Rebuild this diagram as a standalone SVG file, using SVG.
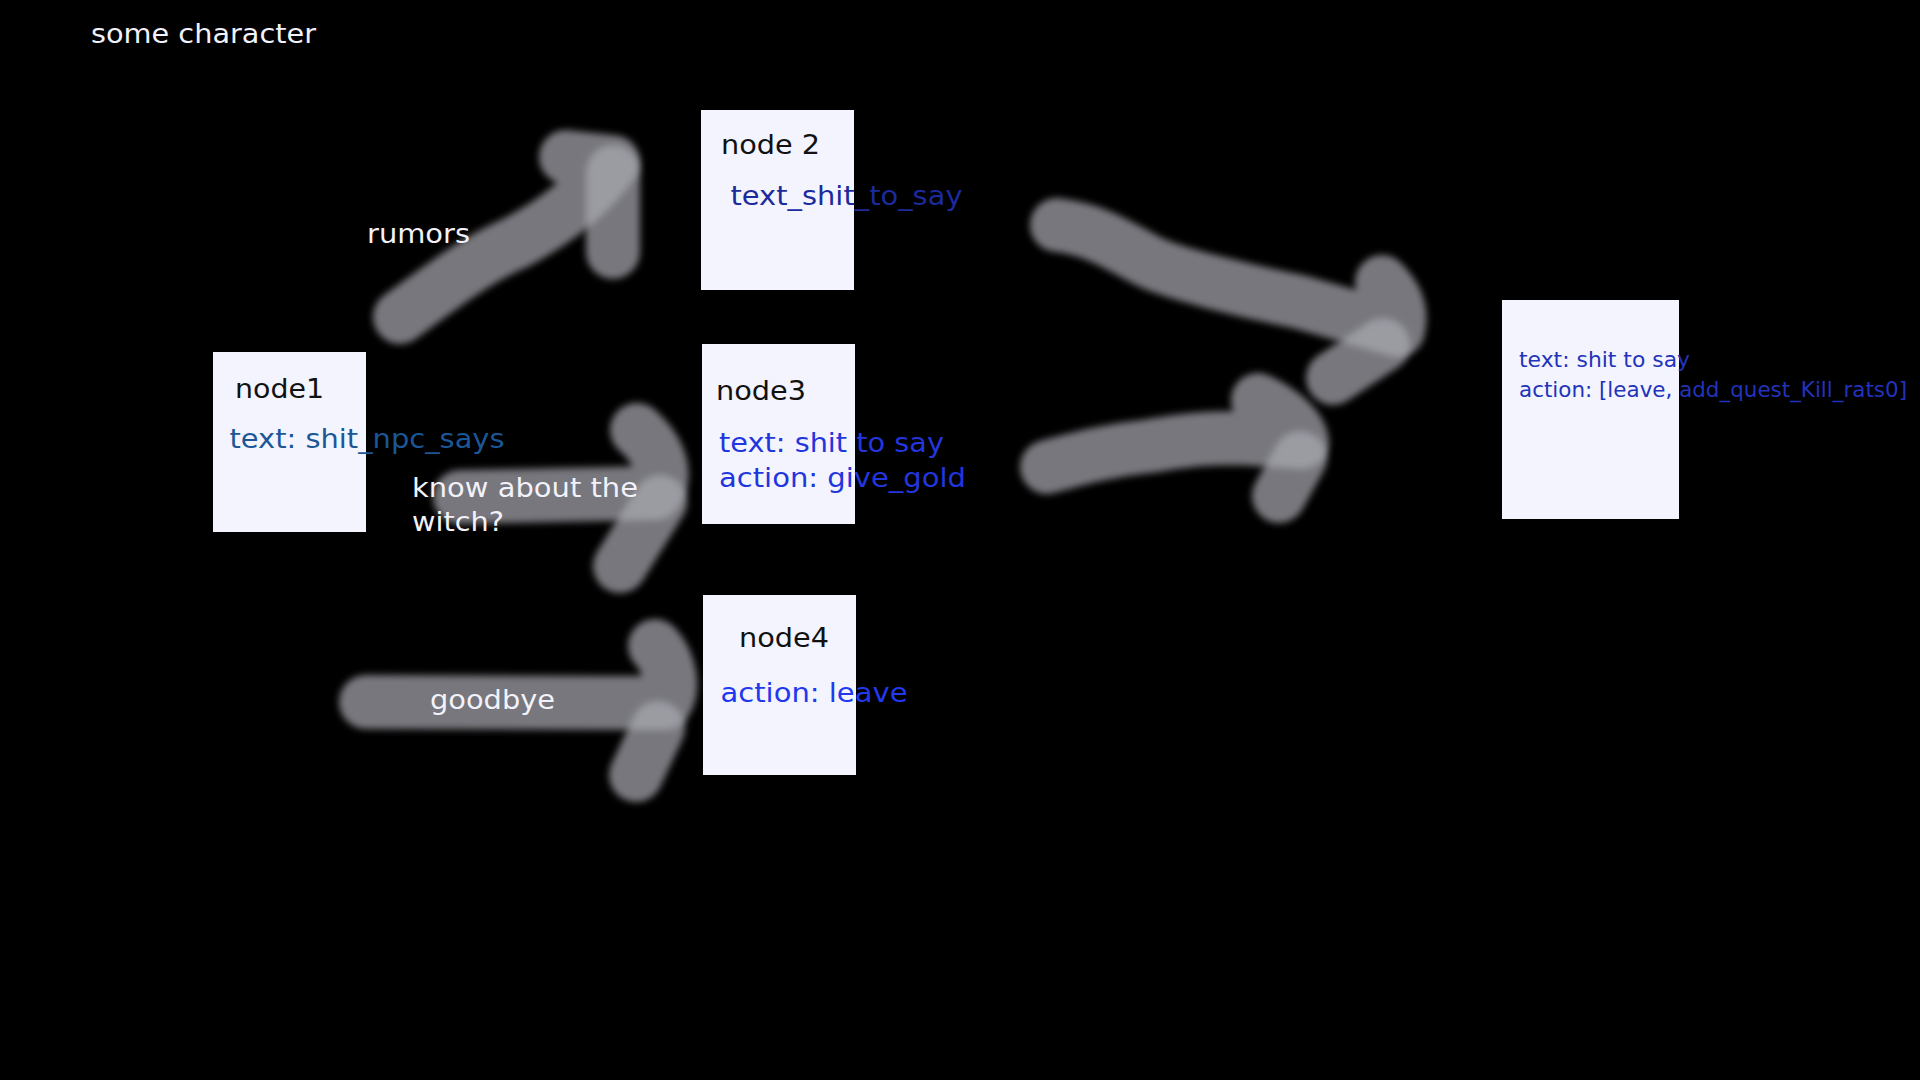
<svg xmlns="http://www.w3.org/2000/svg" width="1920" height="1080" viewBox="0 0 1920 1080">
<defs>
<filter id="soft" filterUnits="userSpaceOnUse" x="0" y="0" width="1920" height="1080"><feGaussianBlur stdDeviation="3.5"/></filter>
<style>
.bg{fill:#000}
.arr{fill:none;stroke:#a9aab2;stroke-opacity:0.7;stroke-width:54;stroke-linecap:round;stroke-linejoin:round;filter:url(#soft)}
.box{fill:#f3f4fe}
text{font-family:"DejaVu Sans","Liberation Sans",sans-serif;font-size:26px}
.lbl{fill:#f2f2fa}
.ttl{fill:#111}
.t1{fill:#1b5797}
.t2{fill:#1b2a9c}
.t3{fill:#2236dd}
.t4{fill:#2238ee}
.t5{fill:#2233bb;font-size:21.5px}
</style>
</defs>
<rect class="bg" x="0" y="0" width="1920" height="1080"/>
<g id="connectors">
<g id="e-rumors">
<path class="arr" d="M400,317 C450,280 480,258 515,243 C555,222 590,195 613,162 L566,157"/>
<path class="arr" d="M613,172 L613,252"/>
</g>
<g id="e-witch">
<path class="arr" d="M460,497 L655,493 C668,478 662,452 637,430"/>
<path class="arr" d="M660,502 L620,566"/>
</g>
<g id="e-goodbye">
<path class="arr" d="M366,702 L665,703 C675,688 670,662 655,646"/>
<path class="arr" d="M658,728 L636,775"/>
</g>
<g id="e-n2-n5">
<path class="arr" d="M1057,225 C1100,230 1125,250 1150,262 S1250,292 1300,302 L1398,330 C1403,310 1395,295 1382,282"/>
<path class="arr" d="M1383,345 L1333,378"/>
</g>
<g id="e-n3-n5">
<path class="arr" d="M1047,467 C1080,458 1110,450 1150,446 C1180,441 1200,438 1240,438 L1302,442 C1300,427 1280,410 1258,400"/>
<path class="arr" d="M1300,458 L1279,496"/>
</g>
<text class="lbl" x="367" y="243" textLength="103" lengthAdjust="spacingAndGlyphs">rumors</text>
<text class="lbl" x="412" y="497" textLength="226" lengthAdjust="spacingAndGlyphs">know about the</text>
<text class="lbl" x="412" y="531" textLength="92" lengthAdjust="spacingAndGlyphs">witch?</text>
<text class="lbl" x="430" y="709" textLength="125" lengthAdjust="spacingAndGlyphs">goodbye</text>
</g>
<text class="lbl" x="91" y="43" textLength="225" lengthAdjust="spacingAndGlyphs">some character</text>
<g id="node1">
<rect class="box" x="213" y="352" width="153" height="180"/>
<text class="ttl" x="235" y="397.5" textLength="89" lengthAdjust="spacingAndGlyphs">node1</text>
<text class="t1" x="229.5" y="448" textLength="275" lengthAdjust="spacingAndGlyphs">text: shit_npc_says</text>
</g>
<g id="node2">
<rect class="box" x="701" y="110" width="153" height="180"/>
<text class="ttl" x="721" y="154" textLength="99" lengthAdjust="spacingAndGlyphs">node 2</text>
<text class="t2" x="730.5" y="205" textLength="232" lengthAdjust="spacingAndGlyphs">text_shit_to_say</text>
</g>
<g id="node3">
<rect class="box" x="702" y="344" width="153" height="180"/>
<text class="ttl" x="716" y="400" textLength="90" lengthAdjust="spacingAndGlyphs">node3</text>
<text class="t3" x="719" y="452" textLength="225" lengthAdjust="spacingAndGlyphs">text: shit to say</text>
<text class="t3" x="719" y="487" textLength="247" lengthAdjust="spacingAndGlyphs">action: give_gold</text>
</g>
<g id="node4">
<rect class="box" x="703" y="595" width="153" height="180"/>
<text class="ttl" x="739" y="647" textLength="90" lengthAdjust="spacingAndGlyphs">node4</text>
<text class="t4" x="720.5" y="701.5" textLength="187" lengthAdjust="spacingAndGlyphs">action: leave</text>
</g>
<g id="node5">
<rect class="box" x="1502" y="300" width="177" height="219"/>
<text class="t5" x="1519" y="367" textLength="171" lengthAdjust="spacingAndGlyphs">text: shit to say</text>
<text class="t5" x="1519" y="397" textLength="388" lengthAdjust="spacingAndGlyphs">action: [leave, add_quest_Kill_rats0]</text>
</g>
</svg>
